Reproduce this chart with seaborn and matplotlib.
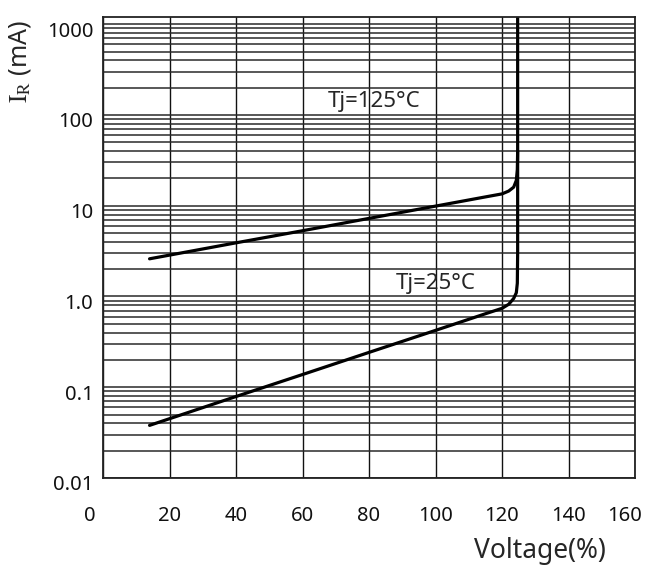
"""Reverse current vs. voltage (% of rated) for two junction temperatures."""

import matplotlib
matplotlib.use("Agg")
import matplotlib.pyplot as plt
import matplotlib.transforms as mtransforms
import numpy as np
import pandas as pd
import seaborn as sns
from matplotlib.ticker import FixedLocator, LogLocator, NullFormatter

# values
volt_25 = [14, 40, 60, 80, 100, 115, 120, 122, 123.5, 124.3, 124.6, 124.7, 124.7]
ir_25 = [0.038, 0.079, 0.138, 0.242, 0.423, 0.645, 0.74, 0.82, 0.95, 1.1, 1.4, 3.0, 1250]

volt_125 = [14, 40, 60, 80, 100, 115, 120, 122, 123.5, 124.3, 124.6, 124.7]
ir_125 = [2.6, 3.9, 5.3, 7.25, 9.9, 12.5, 13.5, 14.5, 16.0, 19.0, 25.0, 40.0]

x_ticks = [0, 20, 40, 60, 80, 100, 120, 140, 160]
y_ticks = [0.01, 0.1, 1, 10, 100, 1000]
y_tick_labels = ["0.01", "0.1", "1.0", "10", "100", "1000"]

df = pd.concat([
    pd.DataFrame({"voltage": volt_25, "ir": ir_25, "tj": "25"}),
    pd.DataFrame({"voltage": volt_125, "ir": ir_125, "tj": "125"}),
], ignore_index=True)

sns.set_style("white")
plt.rcParams["font.family"] = ["Noto Sans", "DejaVu Sans"]
plt.rcParams["mathtext.fontset"] = "stix"

fig = plt.figure(figsize=(6.47, 5.65), dpi=100)
ax = fig.add_axes([0.1592, 0.154, 0.8223, 0.8159])

for tj, grp in df.groupby("tj"):
    sns.lineplot(data=grp, x="voltage", y="ir", sort=False, estimator=None,
                 color="black", lw=2.3, ax=ax, legend=False)

ax.set_yscale("log")
ax.set_xlim(0, 160)
ax.set_ylim(0.01, 1200)

ax.xaxis.set_major_locator(FixedLocator(x_ticks))
ax.yaxis.set_major_locator(FixedLocator(y_ticks))
ax.set_yticklabels(y_tick_labels)
ax.yaxis.set_minor_locator(LogLocator(base=10, subs=np.arange(2, 10)))
ax.yaxis.set_minor_formatter(NullFormatter())

ax.grid(True, which="major", axis="x", color="#111111", lw=1.0)
ax.grid(True, which="both", axis="y", color="#2a2a2a", lw=1.1)
ax.tick_params(axis="both", which="both", length=0, labelsize=14.5,
               labelcolor="#111111")
ax.tick_params(axis="x", pad=20)
ax.tick_params(axis="y", pad=7)

for s in ax.spines.values():
    s.set_color("#222222")
    s.set_linewidth(1.3)

# nudge tick labels the way the original sheet has them
down = mtransforms.ScaledTranslation(0, -5 / 100, fig.dpi_scale_trans)
for lab in ax.get_yticklabels():
    lab.set_transform(lab.get_transform() + down)
xlabs = ax.get_xticklabels()
left = mtransforms.ScaledTranslation(-13 / 100, 0, fig.dpi_scale_trans)
xlabs[0].set_transform(xlabs[0].get_transform() + left)
left_end = mtransforms.ScaledTranslation(-10 / 100, 0, fig.dpi_scale_trans)
xlabs[-1].set_transform(xlabs[-1].get_transform() + left_end)

ax.set_xlabel("")
ax.set_ylabel("")
fig.text(20 / 647, 1 - 61 / 565, r"$\mathrm{I}_{\mathrm{R}}$ (mA)", fontsize=18,
         rotation=90, ha="center", va="center")

fig.text(540 / 647, 1 - 551 / 565, "Voltage(%)", fontsize=19,
         ha="center", va="center")

ax.text(81.5, 140, "Tj=125°C", fontsize=16, ha="center", va="center")
ax.text(100, 1.39, "Tj=25°C", fontsize=16, ha="center", va="center")

fig.savefig("out.png", dpi=100)
